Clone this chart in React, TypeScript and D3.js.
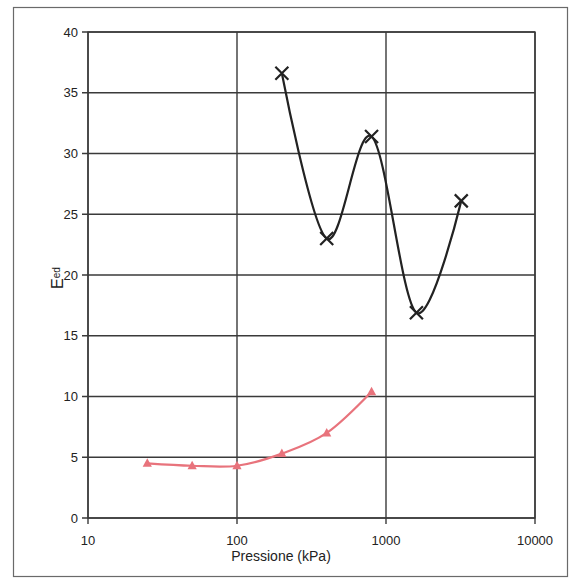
import * as d3 from "d3"

const pressureBlack = [200, 400, 800, 1600, 3200]
const eedBlack = [36.6, 23.0, 31.4, 16.9, 26.1]

const pressureRed = [25, 50, 100, 200, 400, 800]
const eedRed = [4.5, 4.3, 4.3, 5.3, 7.0, 10.4]

const xTicks = [10, 100, 1000, 10000]
const yTicks = [0, 5, 10, 15, 20, 25, 30, 35, 40]

const W = 573
const H = 580
const margin = { top: 32, right: 38, bottom: 62, left: 88 }

export default function App() {
  const innerW = W - margin.left - margin.right
  const innerH = H - margin.top - margin.bottom

  const x = d3.scaleLog().domain([10, 10000]).range([0, innerW])
  const y = d3.scaleLinear().domain([0, 40]).range([innerH, 0])

  // Excel-like smoothing
  const line = d3
    .line<[number, number]>()
    .x((d) => x(d[0]))
    .y((d) => y(d[1]))
    .curve(d3.curveCardinal.tension(0))

  const blackPts = pressureBlack.map((p, i) => [p, eedBlack[i]] as [number, number])
  const redPts = pressureRed.map((p, i) => [p, eedRed[i]] as [number, number])

  const gridColor = "#3a3a3a"
  const red = "#e8737c"
  const font = "'Liberation Sans', Arial, sans-serif"

  return (
    <svg width={W} height={H} style={{ position: "absolute", left: 0, top: 0, background: "#fff" }}>
      {/* outer frame */}
      <rect x={13.5} y={7.5} width={554} height={569} fill="none" stroke="#6a6a6a" strokeWidth={1.2} />

      <g transform={`translate(${margin.left},${margin.top})`}>
        {/* horizontal grid */}
        {yTicks.map((t) => (
          <g key={"y" + t}>
            <line x1={-6} x2={innerW} y1={y(t)} y2={y(t)} stroke={gridColor} strokeWidth={1.4} />
            <text x={-10} y={y(t)} dy="0.35em" textAnchor="end" fontFamily={font} fontSize={13} fill="#222">
              {t}
            </text>
          </g>
        ))}
        {/* vertical grid */}
        {xTicks.map((t) => (
          <g key={"x" + t}>
            <line x1={x(t)} x2={x(t)} y1={0} y2={innerH + 6} stroke={gridColor} strokeWidth={1.4} />
            <text x={x(t)} y={innerH + 27} textAnchor="middle" fontFamily={font} fontSize={13} fill="#222">
              {t}
            </text>
          </g>
        ))}
        <rect x={0} y={0} width={innerW} height={innerH} fill="none" stroke={gridColor} strokeWidth={1.4} />

        {/* red series */}
        <path d={line(redPts) || ""} fill="none" stroke={red} strokeWidth={2.2} />
        {redPts.map((d, i) => {
          const cx = x(d[0])
          const cy = y(d[1])
          return (
            <path
              key={"r" + i}
              d={`M${cx},${cy - 5}L${cx + 4.6},${cy + 3.5}L${cx - 4.6},${cy + 3.5}Z`}
              fill={red}
            />
          )
        })}

        {/* black series */}
        <path d={line(blackPts) || ""} fill="none" stroke="#222" strokeWidth={2.2} />
        {blackPts.map((d, i) => {
          const cx = x(d[0])
          const cy = y(d[1])
          const s = 6.5
          return (
            <path
              key={"b" + i}
              d={`M${cx - s},${cy - s}L${cx + s},${cy + s}M${cx - s},${cy + s}L${cx + s},${cy - s}`}
              stroke="#222"
              strokeWidth={2.2}
              fill="none"
            />
          )
        })}
      </g>

      {/* axis titles */}
      <text x={281} y={561} textAnchor="middle" fontFamily={font} fontSize={14} fill="#222">
        Pressione (kPa)
      </text>
      <text transform="translate(63,289) rotate(-90)" fontFamily={font} fill="#222">
        <tspan fontSize={16}>E</tspan>
        <tspan fontSize={10} dy={-3}>
          ed
        </tspan>
      </text>
    </svg>
  )
}
